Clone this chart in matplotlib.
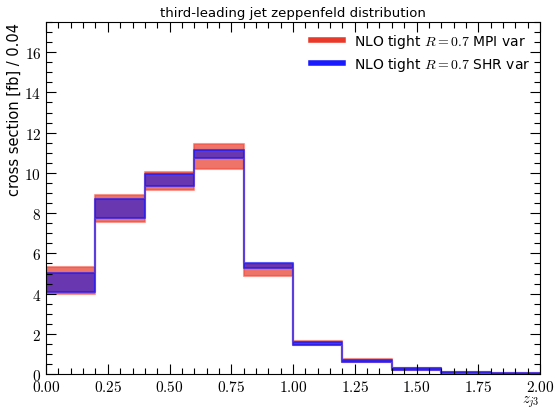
import numpy as np
import matplotlib
matplotlib.use("Agg")
import matplotlib.pyplot as plt
from matplotlib.ticker import MultipleLocator, FuncFormatter

plt.rcParams['mathtext.fontset'] = 'cm'
plt.rcParams['font.family'] = ['DejaVu Sans']

bin_edges = [0.0, 0.2, 0.4, 0.6, 0.8, 1.0, 1.2, 1.4, 1.6, 1.8, 2.0]
mpi_low  = [3.97, 7.58, 9.15, 10.17, 4.90, 1.47, 0.60, 0.22, 0.07, 0.01]
mpi_high = [5.32, 8.92, 10.03, 11.45, 5.48, 1.67, 0.74, 0.33, 0.13, 0.05]
shr_low  = [4.10, 7.75, 9.37, 10.72, 5.25, 1.45, 0.58, 0.20, 0.05, 0.01]
shr_high = [5.04, 8.70, 9.95, 11.13, 5.51, 1.60, 0.70, 0.33, 0.11, 0.04]

fig = plt.figure(figsize=(5.55, 4.10), dpi=100)
ax = fig.add_axes([0.083, 0.085, 0.89, 0.859])

edges = np.array(bin_edges)

def band(low, high, face, edge, fa, ea, lw):
    lo = np.append(low, low[-1])
    hi = np.append(high, high[-1])
    ax.fill_between(edges, lo, hi, step='post', facecolor=face, alpha=fa, linewidth=0)
    ax.fill_between(edges, lo, hi, step='post', facecolor='none', edgecolor=edge,
                    alpha=ea, linewidth=lw)

band(mpi_low, mpi_high, '#e8392a', '#f05040', 0.7, 0.6, 1.5)
band(shr_low, shr_high, '#1010e0', '#1a1aff', 0.6, 0.7, 1.5)

ax.plot([], [], color='#e8392a', lw=4, label=r'NLO tight $R=0.7$ MPI var')
ax.plot([], [], color='#1a1aff', lw=4, label=r'NLO tight $R=0.7$ SHR var')
ax.legend(loc='upper right', frameon=False, fontsize=10, handlelength=2.3,
          borderaxespad=0.3, labelspacing=0.35)

ax.set_xlim(0, 2.0)
ax.set_ylim(0, 17.5)
ax.xaxis.set_major_locator(MultipleLocator(0.25))
ax.xaxis.set_minor_locator(MultipleLocator(0.05))
ax.yaxis.set_major_locator(MultipleLocator(2))
ax.yaxis.set_minor_locator(MultipleLocator(0.5))
ax.xaxis.set_major_formatter(FuncFormatter(lambda v, p: f'${v:.2f}$'))
ax.yaxis.set_major_formatter(FuncFormatter(lambda v, p: f'${v:.0f}$'))
ax.tick_params(which='both', direction='in', top=True, right=True, labelsize=11)
ax.tick_params(which='major', length=7, width=0.8)
ax.tick_params(which='minor', length=4, width=0.8)

ax.set_title('third-leading jet zeppenfeld distribution', fontsize=9.5, pad=4)
ax.set_ylabel('cross section [fb] / 0.04', fontsize=10.5, loc='top', labelpad=2)
ax.set_xlabel(r'$z_{j3}$', fontsize=10.5, loc='right', labelpad=-0.2)

fig.savefig('out.png', dpi=100)
